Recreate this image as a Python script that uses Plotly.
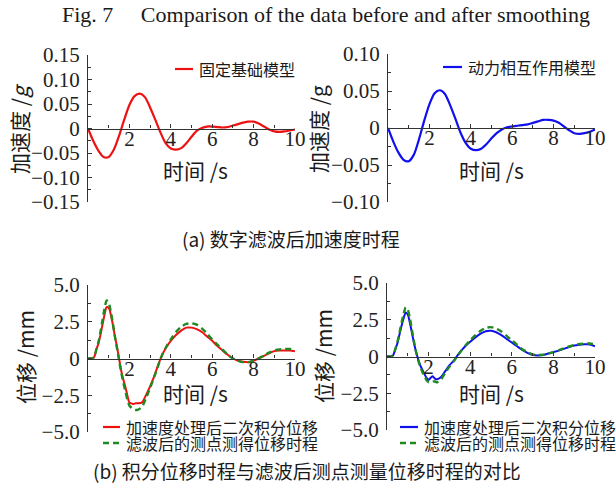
import plotly.graph_objects as go

# ---------------- data ----------------
t_acc = [0, 0.25, 0.5, 0.75, 1.0, 1.25, 1.5, 1.75, 2.0, 2.25, 2.5, 2.75, 3.0, 3.25, 3.5, 3.75,
         4.0, 4.25, 4.5, 4.75, 5.0, 5.25, 5.5, 5.75, 6.0, 6.25, 6.5, 6.75, 7.0, 7.25, 7.5, 7.75,
         8.0, 8.25, 8.5, 8.75, 9.0, 9.25, 9.5, 9.75, 10.0]
acc_fixed = [0, -0.025, -0.045, -0.058, -0.058, -0.043, -0.015, 0.018, 0.048, 0.066, 0.071, 0.064,
             0.043, 0.018, -0.008, -0.030, -0.041, -0.043, -0.040, -0.030, -0.017, -0.005, 0.001,
             0.004, 0.004, 0.003, 0.002, 0.003, 0.006, 0.009, 0.012, 0.014, 0.014, 0.010, 0.004,
             -0.002, -0.006, -0.007, -0.006, -0.004, -0.002]
acc_ssi = [0, -0.018, -0.033, -0.043, -0.045, -0.036, -0.015, 0.010, 0.032, 0.047, 0.051, 0.046,
           0.031, 0.013, -0.006, -0.020, -0.028, -0.030, -0.028, -0.022, -0.014, -0.007, -0.002,
           0.001, 0.002, 0.003, 0.004, 0.005, 0.007, 0.009, 0.011, 0.011, 0.010, 0.007, 0.002,
           -0.003, -0.007, -0.008, -0.007, -0.005, -0.002]

t_disp = [0, 0.1, 0.2, 0.3, 0.4, 0.5, 0.6, 0.7, 0.8, 0.9, 1.0, 1.1, 1.2, 1.3, 1.4, 1.5, 1.6, 1.7,
          1.8, 1.9, 2.0, 2.1, 2.2, 2.3, 2.4,
          2.6, 2.8, 3.0, 3.2, 3.4, 3.6, 3.8, 4.0,
          4.25, 4.5, 4.75, 5.0, 5.25, 5.5, 5.75, 6.0, 6.25, 6.5, 6.75, 7.0, 7.25, 7.5, 7.75,
          8.0, 8.25, 8.5, 8.75, 9.0, 9.25, 9.5, 9.75, 10.0]
disp_fixed_int = [0, 0, 0, 0.1, 0.6, 1.0, 1.6, 2.3, 3.0, 3.5, 3.45, 3.0, 2.3, 1.5, 0.8, 0.0, -0.8,
                  -1.4, -1.9, -2.5, -3.0, -3.05, -3.1, -3.05, -3.05,
                  -3.0, -2.5, -1.9, -1.2, -0.4, 0.3, 0.8, 1.2,
                  1.6, 1.9, 2.1, 2.1, 2.0, 1.8, 1.5, 1.2, 0.85, 0.55, 0.25, 0.0, -0.15, -0.22,
                  -0.25, -0.15, 0.0, 0.18, 0.35, 0.5, 0.55, 0.55, 0.55, 0.5]
disp_fixed_meas = [0, 0, 0, 0.1, 0.6, 1.1, 1.8, 2.6, 3.4, 3.95, 3.8, 3.2, 2.4, 1.5, 0.7, -0.1, -0.9,
                   -1.6, -2.2, -2.8, -3.2, -3.35, -3.45, -3.5, -3.5,
                   -3.3, -2.7, -2.0, -1.25, -0.45, 0.3, 0.85, 1.3,
                   1.8, 2.15, 2.35, 2.4, 2.3, 2.05, 1.7, 1.3, 0.95, 0.6, 0.25, 0.0, -0.15, -0.25,
                   -0.25, -0.15, 0.02, 0.2, 0.4, 0.55, 0.62, 0.65, 0.65, 0.6]
disp_ssi_int = [0, 0, 0, 0.1, 0.5, 0.9, 1.5, 2.1, 2.6, 3.0, 2.85, 2.3, 1.6, 0.9, 0.3, -0.2, -0.6,
                -0.9, -1.2, -1.45, -1.6, -1.45, -1.35, -1.5, -1.55,
                -1.4, -1.0, -0.6, -0.3, 0.1, 0.45, 0.75, 1.0,
                1.3, 1.55, 1.72, 1.75, 1.65, 1.45, 1.2, 0.95, 0.7, 0.45, 0.25, 0.1, 0.07, 0.1,
                0.2, 0.3, 0.4, 0.52, 0.65, 0.75, 0.8, 0.83, 0.82, 0.7]
disp_ssi_meas = [0, 0, 0, 0.1, 0.5, 1.0, 1.6, 2.3, 2.9, 3.35, 3.2, 2.6, 1.8, 1.0, 0.3, -0.25, -0.7,
                 -1.05, -1.35, -1.6, -1.75, -1.75, -1.7, -1.7, -1.75,
                 -1.55, -1.1, -0.7, -0.35, 0.05, 0.45, 0.8, 1.1,
                 1.45, 1.75, 1.95, 2.0, 1.9, 1.7, 1.4, 1.1, 0.8, 0.5, 0.3, 0.15, 0.1, 0.12,
                 0.2, 0.3, 0.42, 0.55, 0.68, 0.78, 0.85, 0.88, 0.88, 0.82]

x_ticks = [2, 4, 6, 8, 10]
y1_ticks = [-0.15, -0.10, -0.05, 0, 0.05, 0.10, 0.15]
y1_text = ["−0.15", "−0.10", "−0.05", "0", "0.05", "0.10", "0.15"]
y2_ticks = [-0.10, -0.05, 0, 0.05, 0.10]
y2_text = ["−0.10", "−0.05", "0", "0.05", "0.10"]
yd_ticks = [-5.0, -2.5, 0, 2.5, 5.0]
yd_text = ["−5.0", "−2.5", "0", "2.5", "5.0"]

name_fixed = "固定基础模型"
name_ssi = "动力相互作用模型"
name_int = "加速度处理后二次积分位移"
name_meas = "滤波后的测点测得位移时程"

title_text = "Fig. 7     Comparison of the data before and after smoothing"
cap_a = "(a) 数字滤波后加速度时程"
cap_b = "(b) 积分位移时程与滤波后测点测量位移时程的对比"

# ---------------- figure ----------------
W, H = 616, 487
RED, BLUE, GREEN = "#ee1111", "#1010ee", "#1f8a1f"
AX = "#333333"
NUM_FONT = "Liberation Serif, Noto Sans CJK SC"
CJK_FONT = "Noto Sans CJK SC, Liberation Serif"

def px(x):
    return x / W

def py(y):
    return 1 - y / H

fig = go.Figure()

panels = [
    dict(x0=88, x1=295, yt=55, yb=202, yr=[-0.15, 0.15], tv=y1_ticks, tt=y1_text, ydt=0.025),
    dict(x0=388, x1=595, yt=54, yb=202, yr=[-0.10, 0.10], tv=y2_ticks, tt=y2_text, ydt=0.025),
    dict(x0=88, x1=295, yt=285, yb=432, yr=[-5, 5], tv=yd_ticks, tt=yd_text, ydt=1.25),
    dict(x0=387, x1=595, yt=283, yb=430, yr=[-5, 5], tv=yd_ticks, tt=yd_text, ydt=1.25),
]

series = [
    [(t_acc, acc_fixed, RED, None, 2.2)],
    [(t_acc, acc_ssi, BLUE, None, 2.2)],
    [(t_disp, disp_fixed_int, RED, None, 2.0), (t_disp, disp_fixed_meas, GREEN, "6px,4px", 2.4)],
    [(t_disp, disp_ssi_int, BLUE, None, 2.0), (t_disp, disp_ssi_meas, GREEN, "6px,4px", 2.4)],
]

LABEL_LIFT = 5  # px: x tick labels sit a little closer to the zero line

layout = {}
for i, (p, ser) in enumerate(zip(panels, series), start=1):
    xa = "x" if i == 1 else f"x{i}"
    ya = "y" if i == 1 else f"y{i}"
    xl = f"x{i + 4}"  # overlay axis carrying the x tick labels
    for (tx, vy, col, dash, lw) in ser:
        fig.add_trace(go.Scatter(
            x=tx, y=vy, mode="lines", xaxis=xa, yaxis=ya, showlegend=False,
            line=dict(color=col, width=lw, dash=dash, shape="spline", smoothing=0.7),
        ))
    fig.add_trace(go.Scatter(x=[], y=[], mode="lines", xaxis=xl, yaxis=ya,
                             showlegend=False, hoverinfo="skip"))
    ydom = [py(p["yb"]), py(p["yt"])]
    frac = (0 - p["yr"][0]) / (p["yr"][1] - p["yr"][0])
    zpos = ydom[0] + frac * (ydom[1] - ydom[0])
    layout["xaxis" if i == 1 else f"xaxis{i}"] = dict(
        domain=[px(p["x0"]), px(p["x1"])], range=[0, 10], anchor="free",
        position=zpos, automargin=False,
        showline=True, linecolor=AX, linewidth=1.2, showgrid=False, zeroline=False,
        tickvals=x_ticks, ticks="inside", ticklen=4, tickcolor=AX, tickwidth=1,
        showticklabels=False,
        minor=dict(dtick=1, ticks="inside", ticklen=3, tickcolor=AX, showgrid=False),
    )
    layout[f"xaxis{i + 4}"] = dict(
        domain=[px(p["x0"]), px(p["x1"])], range=[0, 10], anchor="free",
        overlaying=xa, position=zpos + LABEL_LIFT / H, automargin=False,
        showline=False, showgrid=False, zeroline=False, ticks="",
        tickvals=x_ticks, tickfont=dict(family=NUM_FONT, size=21, color="#222"),
    )
    layout["yaxis" if i == 1 else f"yaxis{i}"] = dict(
        domain=ydom, range=p["yr"], anchor=xa, automargin=False,
        showline=True, linecolor=AX, linewidth=1.2, showgrid=False, zeroline=False,
        tickvals=p["tv"], ticktext=p["tt"], ticks="inside", ticklen=4, tickcolor=AX,
        ticklabelstandoff=3,
        minor=dict(dtick=p["ydt"], tick0=0, ticks="inside", ticklen=3, tickcolor=AX,
                   showgrid=False),
        tickfont=dict(family=NUM_FONT, size=21, color="#222"),
    )

fig.update_layout(**layout)

ann = []
shapes = []

def text(x, y, s, size, family=CJK_FONT, angle=0, xanchor="center"):
    ann.append(dict(x=px(x), y=py(y), xref="paper", yref="paper", text=s, showarrow=False,
                    textangle=angle, xanchor=xanchor, yanchor="middle",
                    font=dict(family=family, size=size, color="#1a1a1a")))

# title & captions
text(326, 15, title_text, 22, family="Liberation Serif")
text(291, 238, cap_a, 19, family=CJK_FONT)
text(307, 470, cap_b, 19, family=CJK_FONT)

# axis titles
text(195, 170, "时间 /s", 21, family=CJK_FONT)
text(491, 170, "时间 /s", 21, family=CJK_FONT)
text(195, 393, "时间 /s", 21, family=CJK_FONT)
text(491, 393, "时间 /s", 21, family=CJK_FONT)
text(19, 129, "加速度 /<i>g</i>", 21, family=CJK_FONT, angle=-90)
text(318, 129, "加速度 /g", 21, family=CJK_FONT, angle=-90)
text(25, 357, "位移 /mm", 21, family=CJK_FONT, angle=-90)
text(323, 356, "位移 /mm", 21, family=CJK_FONT, angle=-90)

# legends
def legend_item(x0, x1, y, color, dash, lw, label):
    shapes.append(dict(type="line", xref="paper", yref="paper", x0=px(x0), x1=px(x1),
                       y0=py(y), y1=py(y), line=dict(color=color, width=lw, dash=dash)))
    text(x1 + 4, y, label, 16, family=CJK_FONT, xanchor="left")

legend_item(175, 193, 69, RED, None, 2.2, name_fixed)
legend_item(443, 462, 67, BLUE, None, 2.2, name_ssi)
legend_item(103, 120, 427, RED, None, 2.2, name_int)
legend_item(103, 120, 443, GREEN, "6px,4px", 2.4, name_meas)
legend_item(400, 418, 427, BLUE, None, 2.2, name_int)
legend_item(400, 418, 443, GREEN, "6px,4px", 2.4, name_meas)

fig.update_layout(
    width=W, height=H, margin=dict(l=0, r=0, t=0, b=0, autoexpand=False),
    paper_bgcolor="white", plot_bgcolor="rgba(0,0,0,0)",
    showlegend=False, annotations=ann, shapes=shapes,
)

fig.write_html("out.html", config={"displayModeBar": False},
               post_script="document.body.style.margin='0px';"
                           "document.body.style.overflow='hidden';")
